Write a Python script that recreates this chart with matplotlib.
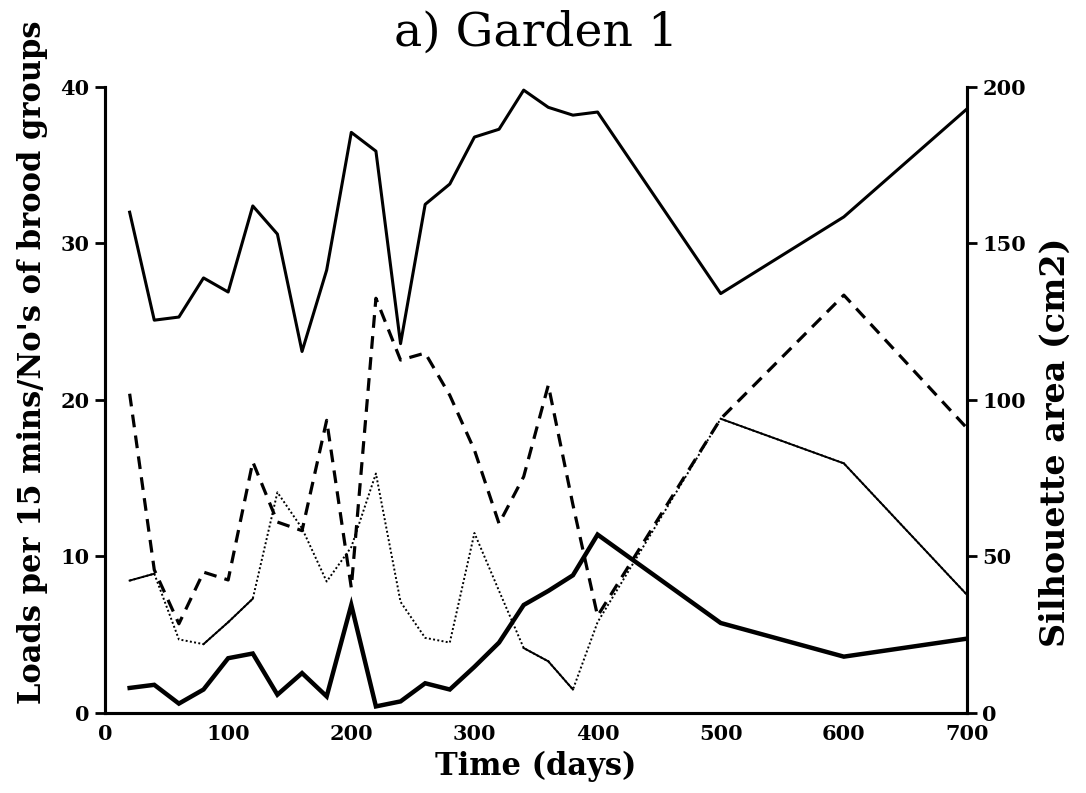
import matplotlib
matplotlib.use('Agg')
import matplotlib.pyplot as plt

# time points (days)
days = [20, 40, 60, 80, 100, 120, 140, 160, 180, 200, 220, 240, 260, 280,
        300, 320, 340, 360, 380, 400, 500, 600, 700]

# silhouette area (cm2), right axis
silhouette = [160, 125.5, 126.5, 139, 134.5, 162, 153, 115.5, 141.5, 185.5,
              179.5, 118, 162.5, 169, 184, 186.5, 199, 193.5, 191, 192,
              134, 158.5, 193]

# loads per 15 mins (dashed)
loads_dashed = [20.4, 9.15, 5.7, 9.0, 8.5, 16.05, 12.2, 11.65, 18.7, 8.0,
                26.5, 22.55, 23.0, 20.3, 16.8, 12.1, 15.1, 20.95, 13.3, 6.2,
                18.8, 26.7, 18.2]

# second thin series (dotted / thin solid)
loads_dotted = [8.46, 8.9, 4.7, 4.4, 5.8, 7.3, 14.1, 11.8, 8.4, 10.6, 15.3,
                7.1, 4.8, 4.5, 11.5, 7.8, 4.15, 3.3, 1.5, 5.8, 18.8, 15.95,
                7.55]
# segments of that series that were drawn solid in the original
solid_segments = [0, 3, 4, 16, 17, 20, 21]

# no's of brood groups (thick line)
brood_groups = [1.6, 1.8, 0.6, 1.5, 3.5, 3.8, 1.17, 2.55, 1.06, 6.9, 0.42,
                0.74, 1.9, 1.5, 2.95, 4.5, 6.9, 7.8, 8.8, 11.4, 5.75, 3.6,
                4.75]

xticks = [0, 100, 200, 300, 400, 500, 600, 700]
yticks_left = [0, 10, 20, 30, 40]
yticks_right = [0, 50, 100, 150, 200]

tick_font = {'family': 'DejaVu Serif', 'weight': 'bold', 'size': 15}
label_font = {'family': 'DejaVu Serif', 'weight': 'bold'}

fig = plt.figure(figsize=(10.86, 7.93), dpi=100)
ax = fig.add_axes([0.0967, 0.1009, 0.7937, 0.7894])
ax2 = ax.twinx()

# lines
ax.plot(days, brood_groups, color='black', lw=3.2, solid_joinstyle='miter')
ax.plot(days, loads_dashed, color='black', lw=2.3, linestyle=(0, (4, 2.6)))
ax.plot(days, loads_dotted, color='black', lw=1.4, linestyle=(0, (1, 1.2)))
for i in solid_segments:
    ax.plot(days[i:i + 2], loads_dotted[i:i + 2], color='black', lw=1.4)
ax2.plot(days, silhouette, color='black', lw=2.2)

# axes limits and ticks
ax.set_xlim(0, 700)
ax.set_ylim(0, 40)
ax2.set_ylim(0, 200)
ax.set_xticks(xticks)
ax.set_yticks(yticks_left)
ax2.set_yticks(yticks_right)
ax.set_xticklabels([str(t) for t in xticks], fontdict=tick_font)
ax.set_yticklabels([str(t) for t in yticks_left], fontdict=tick_font)
ax2.set_yticklabels([str(t) for t in yticks_right], fontdict=tick_font)

ax.tick_params(axis='x', length=0, pad=8)
ax.tick_params(axis='y', length=7, width=2, direction='out', pad=4)
ax2.tick_params(axis='y', length=7, width=2, direction='out', pad=4)

for a in (ax, ax2):
    a.spines['top'].set_visible(False)
    for s in ('left', 'right', 'bottom'):
        a.spines[s].set_linewidth(2.2)

ax.set_xlabel('Time (days)', fontdict=label_font, fontsize=22, labelpad=5)
ax.set_ylabel("Loads per 15 mins/No's of brood groups", fontdict=label_font,
              fontsize=22)
ax.yaxis.set_label_coords(-0.066, 0.56)
ax2.set_ylabel('Silhouette area (cm2)', fontdict=label_font, fontsize=24)
ax2.yaxis.set_label_coords(1.083, 0.433)
ax.set_title('a) Garden 1', fontdict={'family': 'DejaVu Serif', 'size': 34},
             pad=30)

fig.savefig('out.png', dpi=100, facecolor='white')
